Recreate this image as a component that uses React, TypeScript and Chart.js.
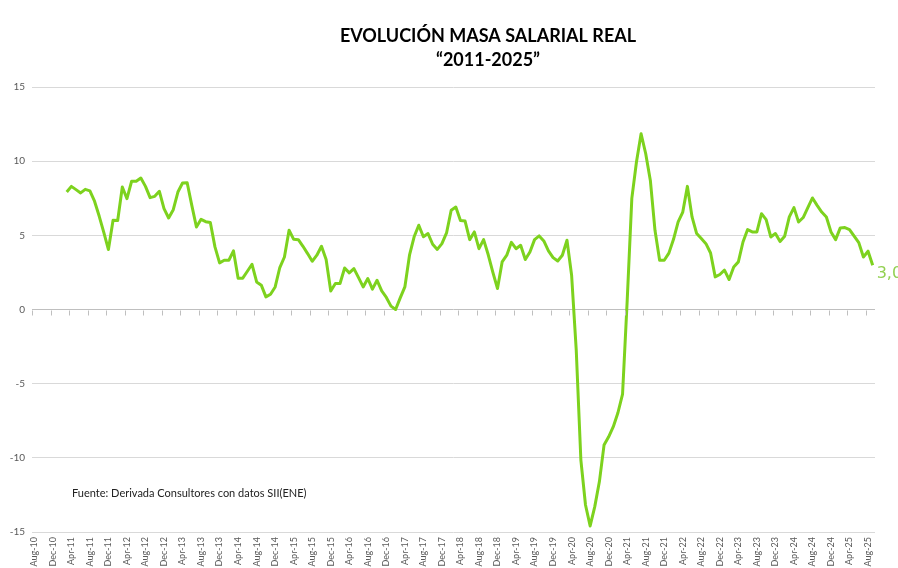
import React, { useEffect, useRef } from "react";
import { Chart, registerables } from "chart.js";

Chart.register(...registerables);

// ---- Data ----
const MONTH_NAMES = ["Jan", "Feb", "Mar", "Apr", "May", "Jun", "Jul", "Aug", "Sep", "Oct", "Nov", "Dec"];
const START_YEAR = 2010;
const START_MONTH = 7; // Aug
const N_MONTHS = 182; // Aug-10 .. Sep-25

const CATEGORIES: string[] = [];
for (let k = 0; k < N_MONTHS; k++) {
  const m = (START_MONTH + k) % 12;
  const y = START_YEAR + Math.floor((START_MONTH + k) / 12);
  CATEGORIES.push(`${MONTH_NAMES[m]}-${String(y % 100).padStart(2, "0")}`);
}

const TICK_EVERY = 4;
const Y_TICKS = [-15, -10, -5, 0, 5, 10, 15];

// Masa salarial real (% var.), monthly, Aug-10 .. Sep-25
const VALUES_2010 = [null, null, null, null, null]; // Aug..Dec
const VALUES_2011 = [null, null, 7.92, 8.3, 8.08, 7.86, 8.1, 8.0, 7.3, 6.3, 5.2, 4.04];
const VALUES_2012 = [6.01, 6.0, 8.26, 7.47, 8.64, 8.64, 8.86, 8.3, 7.54, 7.63, 7.97, 6.8];
const VALUES_2013 = [6.17, 6.73, 7.92, 8.53, 8.55, 7.02, 5.56, 6.08, 5.92, 5.86, 4.22, 3.14];
const VALUES_2014 = [3.32, 3.32, 3.95, 2.11, 2.11, 2.58, 3.05, 1.86, 1.64, 0.85, 1.03, 1.52];
const VALUES_2015 = [2.83, 3.54, 5.34, 4.73, 4.71, 4.26, 3.77, 3.25, 3.66, 4.26, 3.37, 1.25];
const VALUES_2016 = [1.75, 1.75, 2.8, 2.47, 2.76, 2.15, 1.52, 2.09, 1.37, 1.97, 1.25, 0.81];
const VALUES_2017 = [0.23, 0.0, 0.78, 1.52, 3.66, 4.9, 5.68, 4.9, 5.12, 4.4, 4.05, 4.44];
const VALUES_2018 = [5.16, 6.69, 6.91, 6.0, 5.96, 4.71, 5.23, 4.1, 4.71, 3.69, 2.51, 1.41];
const VALUES_2019 = [3.21, 3.66, 4.53, 4.1, 4.33, 3.37, 3.88, 4.71, 4.96, 4.62, 3.95, 3.5];
const VALUES_2020 = [3.27, 3.66, 4.67, 2.31, -2.74, -10.15, -13.18, -14.59, -13.29, -11.6, -9.14, -8.58];
const VALUES_2021 = [-7.9, -6.96, -5.7, 0.6, 7.49, 9.94, 11.85, 10.5, 8.7, 5.34, 3.32, 3.32];
const VALUES_2022 = [3.8, 4.73, 5.91, 6.57, 8.3, 6.24, 5.12, 4.78, 4.44, 3.81, 2.2, 2.36];
const VALUES_2023 = [2.65, 2.02, 2.87, 3.21, 4.55, 5.39, 5.23, 5.23, 6.46, 6.06, 4.89, 5.12];
const VALUES_2024 = [4.58, 4.94, 6.24, 6.87, 5.9, 6.2, 6.87, 7.52, 7.02, 6.57, 6.24, 5.23];
const VALUES_2025 = [4.71, 5.5, 5.52, 5.39, 4.94, 4.51, 3.54, 3.93, 2.98]; // Jan..Sep

const SERIES: (number | null)[] = [
  ...VALUES_2010, ...VALUES_2011, ...VALUES_2012, ...VALUES_2013, ...VALUES_2014,
  ...VALUES_2015, ...VALUES_2016, ...VALUES_2017, ...VALUES_2018, ...VALUES_2019,
  ...VALUES_2020, ...VALUES_2021, ...VALUES_2022, ...VALUES_2023, ...VALUES_2024,
  ...VALUES_2025,
];

const LAST_LABEL = "3,0";
const TITLE_1 = "EVOLUCIÓN MASA SALARIAL REAL";
const TITLE_2 = "\u201C2011-2025\u201D";
const SOURCE = "Fuente: Derivada Consultores con datos SII(ENE)";

const FONT = "Lato, 'Open Sans', 'DejaVu Sans', sans-serif";
const LINE_COLOR = "#7dd21e";
const LABEL_COLOR = "#92d050";
const AXIS_TEXT = "#595959";

const overlayPlugin = {
  id: "overlay",
  afterDraw(chart: any) {
    const ctx = chart.ctx as CanvasRenderingContext2D;
    const xs = chart.scales.x;
    const ys = chart.scales.y;
    const y0 = Math.round(ys.getPixelForValue(0)) + 0.5;
    const bw = xs.getPixelForValue(1) - xs.getPixelForValue(0);
    ctx.save();
    // tick marks on zero axis
    ctx.strokeStyle = "#bfbfbf";
    ctx.lineWidth = 1;
    ctx.beginPath();
    for (let i = 0; i < CATEGORIES.length; i += TICK_EVERY) {
      const px = Math.round(xs.getPixelForValue(i) - bw / 2) + 0.5;
      ctx.moveTo(px, y0);
      ctx.lineTo(px, y0 + 5);
    }
    ctx.stroke();

    // title
    ctx.fillStyle = "#000000";
    ctx.textAlign = "center";
    ctx.textBaseline = "middle";
    ctx.font = `bold 18px ${FONT}`;
    ctx.fillText(TITLE_1, 488, 36);
    ctx.fillText(TITLE_2, 488, 60);

    // source
    ctx.textAlign = "left";
    ctx.font = `11px ${FONT}`;
    ctx.fillStyle = "#222222";
    ctx.fillText(SOURCE, 72, 493);

    // last data label
    const lastIdx = SERIES.length - 1;
    const lv = SERIES[lastIdx] as number;
    const lx = xs.getPixelForValue(lastIdx);
    const ly = ys.getPixelForValue(lv);
    ctx.fillStyle = LABEL_COLOR;
    ctx.font = `16px 'DejaVu Sans', sans-serif`;
    ctx.textAlign = "left";
    ctx.textBaseline = "middle";
    ctx.fillText(LAST_LABEL, lx + 4, ly + 9);
    ctx.restore();
  },
};

export default function App() {
  const ref = useRef<HTMLCanvasElement | null>(null);
  useEffect(() => {
    if (!ref.current) return;
    const chart = new Chart(ref.current, {
      type: "line",
      data: {
        labels: CATEGORIES,
        datasets: [
          {
            data: SERIES,
            borderColor: LINE_COLOR,
            backgroundColor: LINE_COLOR,
            borderWidth: 3,
            pointRadius: 0,
            tension: 0,
            spanGaps: false,
            borderJoinStyle: "round",
          },
        ],
      },
      options: {
        responsive: false,
        animation: false,
        devicePixelRatio: 1,
        layout: { padding: { top: 87, right: 23, bottom: 0, left: 0 } },
        plugins: {
          legend: { display: false },
          tooltip: { enabled: false },
          title: { display: false },
        },
        scales: {
          x: {
            type: "category",
            offset: true,
            grid: { display: false, drawTicks: false },
            border: { display: false },
            ticks: {
              autoSkip: false,
              maxRotation: 90,
              minRotation: 90,
              padding: 5,
              color: AXIS_TEXT,
              font: { family: FONT, size: 9 },
              callback: (_v: any, i: number) => (i % TICK_EVERY === 0 ? CATEGORIES[i] : ""),
            },
            afterFit: (s: any) => {
              s.height = 36;
            },
          },
          y: {
            min: -15,
            max: 15,
            grid: {
              color: (c: any) => (c.tick && c.tick.value === 0 ? "#bfbfbf" : "#d9d9d9"),
              drawTicks: false,
            },
            border: { display: false },
            afterBuildTicks: (s: any) => {
              s.ticks = Y_TICKS.map((v) => ({ value: v }));
            },
            ticks: {
              padding: 7,
              color: AXIS_TEXT,
              font: { family: FONT, size: 10 },
              callback: (v: any) => String(v),
            },
            afterFit: (s: any) => {
              s.width = 32;
            },
          },
        },
      },
      plugins: [overlayPlugin],
    });
    return () => chart.destroy();
  }, []);

  return (
    <div style={{ position: "fixed", left: 0, top: 0, width: 898, height: 568, background: "#ffffff" }}>
      <canvas ref={ref} width={898} height={568} style={{ display: "block" }} />
    </div>
  );
}
